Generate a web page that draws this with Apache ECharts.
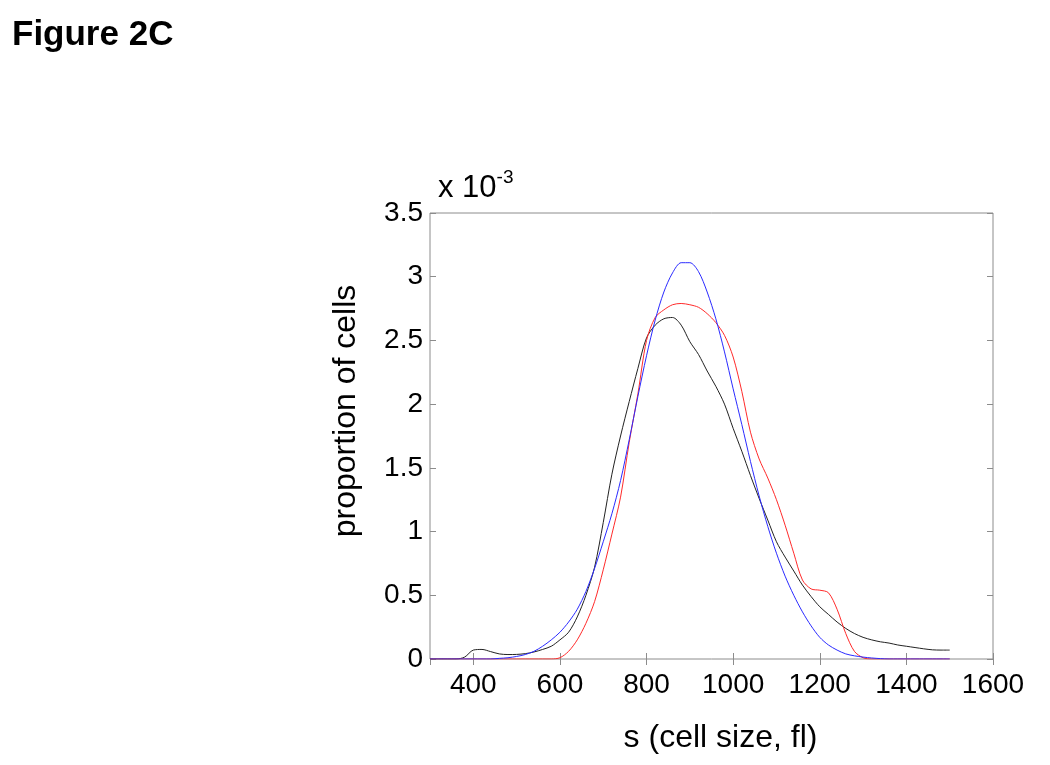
<!DOCTYPE html>
<html>
<head>
<meta charset="utf-8">
<title>Figure 2C</title>
<script src="https://cdn.jsdelivr.net/npm/echarts@6/dist/echarts.min.js"></script>
<style>
  html, body { margin: 0; padding: 0; background: #fff; }
  #chart { width: 1050px; height: 765px; }
</style>
</head>
<body>
<div id="chart"></div>
<script>
// cell size (fl) at which the three curves were read
const sizes = [
  300, 320, 340, 360, 380, 400, 420, 440, 460, 480,
  500, 520, 540, 560, 580, 600, 620, 640, 660, 680,
  700, 720, 740, 760, 780, 800, 820, 840, 860, 880,
  900, 920, 940, 960, 980, 1000, 1020, 1040, 1060, 1080,
  1100, 1120, 1140, 1160, 1180, 1200, 1220, 1240, 1260, 1280,
  1300, 1320, 1340, 1360, 1380, 1400, 1420, 1440, 1460, 1480,
  1500
]
// proportion of cells, in units of 10^-3
const blackVals = [
  0, 0, 0, 0, 0.015, 0.07, 0.075, 0.058, 0.04, 0.035,
  0.036, 0.042, 0.055, 0.075, 0.10, 0.15, 0.21, 0.33, 0.50, 0.72,
  1.07, 1.45, 1.75, 2.02, 2.28, 2.52, 2.62, 2.67, 2.68, 2.62,
  2.49, 2.39, 2.26, 2.14, 2.00, 1.81, 1.63, 1.44, 1.26, 1.09,
  0.92, 0.80, 0.69, 0.58, 0.49, 0.41, 0.35, 0.29, 0.24, 0.20,
  0.17, 0.15, 0.135, 0.125, 0.11, 0.10, 0.09, 0.08, 0.072, 0.07,
  0.07
]
const redVals = [
  0, 0, 0, 0, 0, 0, 0, 0, 0, 0,
  0, 0, 0, 0, 0, 0.01, 0.06, 0.15, 0.28, 0.45,
  0.70, 0.98, 1.27, 1.70, 2.08, 2.50, 2.68, 2.74, 2.78, 2.79,
  2.78, 2.76, 2.71, 2.64, 2.54, 2.37, 2.10, 1.78, 1.57, 1.42,
  1.25, 1.05, 0.83, 0.62, 0.55, 0.54, 0.52, 0.39, 0.20, 0.06,
  0.01, 0, 0, 0, 0, 0, 0, 0, 0, 0,
  0
]
const blueVals = [
  0, 0, 0, 0, 0, 0, 0, 0, 0.005, 0.01,
  0.02, 0.035, 0.06, 0.10, 0.15, 0.21, 0.29, 0.39, 0.53, 0.71,
  0.92, 1.14, 1.40, 1.72, 2.06, 2.38, 2.66, 2.88, 3.03, 3.11,
  3.11, 3.04, 2.88, 2.67, 2.41, 2.12, 1.84, 1.55, 1.28, 1.04,
  0.83, 0.65, 0.50, 0.37, 0.26, 0.17, 0.11, 0.07, 0.04, 0.025,
  0.015, 0.008, 0.003, 0, 0, 0, 0, 0, 0, 0,
  0
]

const chart = echarts.init(document.getElementById('chart'))

const FONT = 'Liberation Sans, Arial, sans-serif'
const boxColor = '#8c8c8c'

// build [x, y] pairs for a value axis
const toPairs = (vals) => sizes.map((s, i) => [s, vals[i]])

const makeLine = (name, vals, color) => ({
  name: name,
  type: 'line',
  data: toPairs(vals),
  showSymbol: false,
  smooth: 0.3,
  lineStyle: { color: color, width: 1 },
  itemStyle: { color: color },
  animation: false
})

const xBase = {
  type: 'value',
  min: 300,
  max: 1600,
  splitNumber: 6,
  splitLine: { show: false },
  axisLine: { show: false },
  axisTick: { show: true, inside: true, length: 6, lineStyle: { color: boxColor } }
}
const yBase = {
  type: 'value',
  min: 0,
  max: 3.5,
  interval: 0.5,
  splitLine: { show: false },
  axisLine: { show: false },
  axisTick: { show: true, inside: true, length: 6, lineStyle: { color: boxColor } }
}

const option = {
  backgroundColor: '#fff',
  animation: false,
  grid: {
    left: 430,
    right: 57,
    top: 213,
    bottom: 106,
    show: true,
    borderColor: boxColor,
    borderWidth: 1,
    backgroundColor: 'transparent'
  },
  graphic: [
    {
      type: 'text',
      left: 12,
      top: 18,
      style: {
        text: 'Figure 2C',
        font: 'bold 35px ' + FONT,
        fill: '#000'
      }
    },
    {
      type: 'text',
      left: 438,
      top: 168,
      style: {
        text: '{b|x 10}{s|-3}',
        rich: {
          b: { font: '31px ' + FONT, fill: '#000', verticalAlign: 'bottom', lineHeight: 36 },
          s: { font: '19px ' + FONT, fill: '#000', verticalAlign: 'top', lineHeight: 36 }
        }
      }
    }
  ],
  xAxis: [
    Object.assign({}, xBase, {
      position: 'bottom',
      name: 's (cell size, fl)',
      nameLocation: 'middle',
      nameGap: 63,
      nameTextStyle: { fontFamily: FONT, fontSize: 32, color: '#000', padding: [0, 0, 0, 18] },
      axisLabel: {
        showMinLabel: false,
        margin: 12,
        fontFamily: FONT,
        fontSize: 28,
        color: '#000',
        formatter: (v) => String(v)
      }
    }),
    Object.assign({}, xBase, {
      position: 'top',
      axisLabel: { show: false }
    })
  ],
  yAxis: [
    Object.assign({}, yBase, {
      position: 'left',
      name: 'proportion of cells',
      nameLocation: 'middle',
      nameGap: 68,
      nameTextStyle: { fontFamily: FONT, fontSize: 32, color: '#000', padding: [0, 0, 0, 50] },
      axisLabel: { margin: 7, fontFamily: FONT, fontSize: 28, color: '#000' }
    }),
    Object.assign({}, yBase, {
      position: 'right',
      axisLabel: { show: false }
    })
  ],
  series: [
    makeLine('black', blackVals, '#222222'),
    makeLine('red', redVals, '#ff2a2a'),
    makeLine('blue', blueVals, '#2a2aff')
  ]
}

chart.setOption(option)
</script>
</body>
</html>
